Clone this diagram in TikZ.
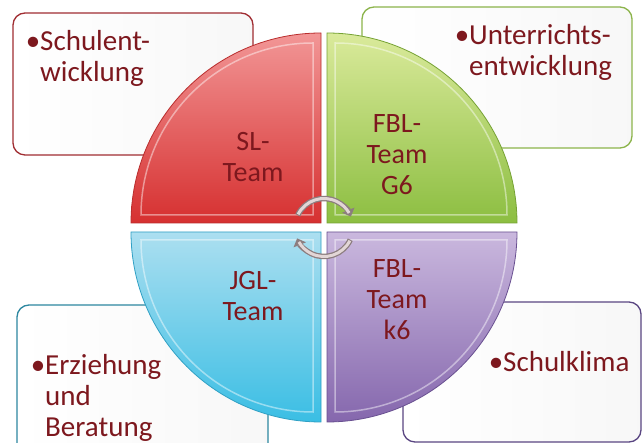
\documentclass[tikz,border=0pt]{standalone}
\usepackage{fontspec}
\setmainfont{Carlito}
\usepackage{tikz}
\usetikzlibrary{positioning}
\usetikzlibrary{arrows.meta}

\definecolor{textred}{RGB}{125,24,30}
\definecolor{redline}{RGB}{160,45,50}
\definecolor{greenline}{RGB}{140,180,75}
\definecolor{blueline}{RGB}{45,135,160}
\definecolor{purpleline}{RGB}{90,70,130}
\definecolor{redtop}{RGB}{242,150,150}
\definecolor{redbot}{RGB}{214,48,48}
\definecolor{rededge}{RGB}{185,45,45}
\definecolor{greentop}{RGB}{218,234,155}
\definecolor{greenbot}{RGB}{140,190,65}
\definecolor{greenedge}{RGB}{118,162,52}
\definecolor{bluetop}{RGB}{172,223,240}
\definecolor{bluebot}{RGB}{58,190,228}
\definecolor{blueedge}{RGB}{48,160,196}
\definecolor{purpletop}{RGB}{202,184,222}
\definecolor{purplebot}{RGB}{133,103,173}
\definecolor{purpleedge}{RGB}{105,80,145}
\definecolor{arrowdark}{RGB}{140,125,127}
\definecolor{arrowlight}{RGB}{226,214,214}

\begin{document}
\begin{tikzpicture}[x=1pt, y=1pt,
				taskbox/.style={draw, line width=1.3pt, rounded corners=12pt, left color=white, right color=gray!6},
				quarter/.style={line width=0.8pt},
				bevel/.style={white, opacity=0.45, line width=1.5pt},
				teamtext/.style={text=textred, align=center, inner sep=0pt, font=\fontsize{28}{31}\selectfont},
				tasktext/.style={text=textred, align=left, anchor=north west, inner sep=0pt, font=\fontsize{29}{31}\selectfont}]
				\clip (0,0) rectangle (642,443);
				\fill[white] (0,0) rectangle (642,443);
				
				% task boxes behind the circle
				\draw[taskbox, draw=redline] (13,430) rectangle (253,288);
				\draw[taskbox, draw=greenline] (362,436) rectangle (632,295);
				\draw[taskbox, draw=blueline] (17,138) rectangle (268,-30);
				\draw[taskbox, draw=purpleline] (403,141) rectangle (641,1);
				
				% the four quarters
				\shadedraw[quarter, top color=redtop, bottom color=redbot, draw=rededge] (321,220) -- ++(-190,0) arc[start angle=180, end angle=90, radius=190] -- cycle;
				\shadedraw[quarter, top color=greentop, bottom color=greenbot, draw=greenedge] (327,220) -- ++(0,190) arc[start angle=90, end angle=0, radius=190] -- cycle;
				\shadedraw[quarter, top color=bluetop, bottom color=bluebot, draw=blueedge] (321,211) -- ++(-190,0) arc[start angle=180, end angle=270, radius=190] -- cycle;
				\shadedraw[quarter, top color=purpletop, bottom color=purplebot, draw=purpleedge] (327,211) -- ++(190,0) arc[start angle=0, end angle=-90, radius=190] -- cycle;
				
				\draw[bevel] (313,228) -- ++(-172,0) arc[start angle=180, end angle=90, radius=172] -- cycle;
				\draw[bevel] (335,228) -- ++(0,172) arc[start angle=90, end angle=0, radius=172] -- cycle;
				\draw[bevel] (313,203) -- ++(-172,0) arc[start angle=180, end angle=270, radius=172] -- cycle;
				\draw[bevel] (335,203) -- ++(172,0) arc[start angle=0, end angle=-90, radius=172] -- cycle;
				
				% turning arrows in the middle
				\draw[arrowdark, line width=5.5pt, -{Triangle[width=13pt, length=7pt]}] (324,215.5) ++(155:29) arc[start angle=155, end angle=22, radius=29];
				\draw[arrowlight, line width=3pt] (324,215.5) ++(153:29) arc[start angle=153, end angle=30, radius=29];
				\draw[arrowdark, line width=5.5pt, -{Triangle[width=13pt, length=7pt]}] (324,215.5) ++(-25:29) arc[start angle=-25, end angle=-158, radius=29];
				\draw[arrowlight, line width=3pt] (324,215.5) ++(-27:29) arc[start angle=-27, end angle=-150, radius=29];
				
				\node[teamtext] (team1) at (253,286) {SL-\\Team};
				\node[teamtext] (team2) at (397,288) {FBL-\\Team\\G6};
				\node[teamtext] (team3) at (253,147) {JGL-\\Team};
				\node[teamtext] (team4) at (397,143) {FBL-\\Team\\k6};
				
				\node[tasktext] (task1) at (40,413) {\llap{\textbullet}Schulent-\\wicklung};
				\node[tasktext] (task2) at (469,419) {\llap{\textbullet}Unterrichts-\\entwicklung};
				\node[tasktext] (task3) at (45,89) {\llap{\textbullet}Erziehung\\und\\Beratung};
				\node[tasktext] (task4) at (503,92) {\llap{\textbullet}Schulklima};
				
			\end{tikzpicture}
\end{document}
